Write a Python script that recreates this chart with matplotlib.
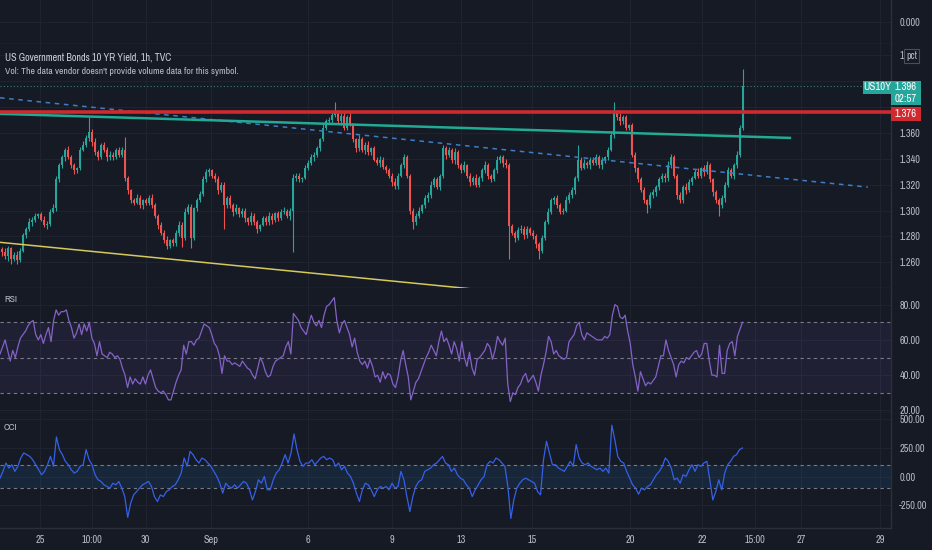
import numpy as np
import matplotlib
matplotlib.use('Agg')
import matplotlib.pyplot as plt
from matplotlib.patches import Rectangle
from matplotlib import font_manager as fm

# ---------------- data ----------------
closes = [
    1.268, 1.265, 1.271, 1.263, 1.266, 1.262, 1.269, 1.281, 1.286, 1.291,
    1.293, 1.296, 1.297, 1.293, 1.289, 1.290, 1.299, 1.302, 1.324, 1.335,
    1.341, 1.347, 1.341, 1.335, 1.331, 1.333, 1.347, 1.351, 1.356, 1.361,
    1.353, 1.345, 1.341, 1.351, 1.347, 1.341, 1.343, 1.341, 1.347, 1.343,
    1.347, 1.325, 1.316, 1.308, 1.306, 1.310, 1.304, 1.308, 1.306, 1.310,
    1.304, 1.296, 1.289, 1.283, 1.277, 1.273, 1.277, 1.275, 1.283, 1.289,
    1.279, 1.299, 1.303, 1.279, 1.302, 1.308, 1.313, 1.324, 1.330, 1.331,
    1.327, 1.324, 1.316, 1.320, 1.304, 1.310, 1.304, 1.299, 1.302, 1.297,
    1.300, 1.294, 1.291, 1.296, 1.291, 1.286, 1.289, 1.294, 1.291, 1.296,
    1.293, 1.298, 1.294, 1.299, 1.300, 1.296, 1.300, 1.325, 1.327, 1.324,
    1.325, 1.333, 1.337, 1.341, 1.343, 1.348, 1.355, 1.364, 1.369, 1.370,
    1.374, 1.376, 1.369, 1.373, 1.364, 1.372, 1.366, 1.355, 1.348, 1.355,
    1.347, 1.351, 1.345, 1.348, 1.339, 1.337, 1.339, 1.334, 1.331, 1.327,
    1.322, 1.319, 1.327, 1.335, 1.341, 1.327, 1.300, 1.291, 1.296, 1.300,
    1.304, 1.310, 1.312, 1.320, 1.324, 1.318, 1.327, 1.348, 1.343, 1.347,
    1.339, 1.345, 1.335, 1.331, 1.335, 1.327, 1.322, 1.325, 1.320, 1.325,
    1.331, 1.335, 1.327, 1.324, 1.331, 1.339, 1.341, 1.337, 1.335, 1.288,
    1.283, 1.279, 1.285, 1.286, 1.281, 1.286, 1.283, 1.280, 1.274, 1.269,
    1.279, 1.291, 1.299, 1.308, 1.310, 1.304, 1.299, 1.300, 1.308, 1.312,
    1.316, 1.325, 1.339, 1.333, 1.337, 1.335, 1.339, 1.337, 1.341, 1.335,
    1.339, 1.341, 1.347, 1.358, 1.376, 1.372, 1.369, 1.372, 1.364, 1.366,
    1.343, 1.333, 1.324, 1.316, 1.308, 1.304, 1.312, 1.314, 1.318, 1.324,
    1.327, 1.325, 1.335, 1.341, 1.327, 1.312, 1.308, 1.318, 1.316, 1.322,
    1.325, 1.330, 1.327, 1.333, 1.330, 1.335, 1.324, 1.314, 1.308, 1.304,
    1.310, 1.320, 1.331, 1.327, 1.335, 1.343, 1.364, 1.396,
]
first_open = 1.270
# wick extensions beyond the body, in thousandths
up_ext = [
    2, 3, 2, 1, 2, 3, 2, 2, 1, 3, 2, 2, 1, 2, 3, 2, 2, 3, 3, 2,
    2, 1, 3, 2, 2, 1, 2, 3, 2, 11, 2, 3, 2, 1, 2, 2, 3, 2, 1, 2,
    2, 10, 2, 1, 2, 3, 2, 1, 2, 2, 3, 2, 1, 2, 2, 3, 1, 2, 2, 3,
    2, 3, 2, 2, 1, 2, 2, 3, 2, 2, 1, 2, 3, 2, 2, 1, 2, 2, 3, 1,
    2, 2, 1, 3, 2, 2, 1, 2, 2, 3, 2, 1, 2, 2, 3, 1, 2, 3, 2, 2,
    1, 2, 2, 3, 2, 2, 1, 3, 2, 2, 3, 8, 2, 2, 3, 2, 4, 2, 1, 3,
    2, 2, 3, 1, 2, 2, 3, 2, 1, 2, 2, 3, 2, 2, 3, 2, 1, 2, 2, 3,
    1, 2, 2, 3, 2, 2, 1, 3, 2, 2, 1, 3, 2, 2, 3, 1, 2, 2, 3, 2,
    2, 3, 2, 1, 2, 3, 2, 2, 3, 2, 2, 1, 2, 3, 2, 2, 1, 2, 2, 2,
    2, 2, 3, 2, 1, 2, 2, 2, 3, 2, 2, 2, 12, 2, 3, 1, 2, 2, 3, 2,
    2, 1, 2, 2, 8, 2, 3, 2, 2, 1, 2, 2, 1, 2, 2, 1, 2, 3, 2, 2,
    2, 2, 3, 3, 2, 1, 2, 2, 3, 2, 2, 2, 3, 1, 2, 3, 2, 1, 2, 2,
    2, 2, 3, 2, 2, 3, 2, 13,
]
dn_ext = [
    3, 2, 4, 4, 2, 3, 2, 1, 2, 2, 3, 2, 2, 1, 2, 3, 2, 1, 2, 2,
    2, 3, 1, 2, 3, 2, 2, 1, 2, 2, 3, 2, 2, 1, 2, 3, 2, 2, 1, 2,
    2, 2, 3, 2, 2, 1, 2, 3, 2, 2, 2, 2, 3, 2, 2, 3, 2, 2, 2, 3,
    7, 2, 2, 8, 2, 2, 1, 2, 2, 3, 2, 2, 3, 2, 18, 2, 2, 3, 2, 2,
    2, 3, 2, 2, 2, 3, 2, 1, 2, 2, 3, 2, 2, 1, 2, 2, 3, 32, 2, 2,
    2, 1, 2, 2, 3, 2, 2, 1, 2, 2, 3, 2, 2, 3, 2, 2, 1, 2, 3, 2,
    2, 3, 2, 2, 1, 2, 3, 2, 2, 2, 3, 2, 2, 1, 2, 2, 3, 5, 2, 2,
    2, 2, 3, 2, 2, 1, 2, 2, 3, 2, 2, 3, 2, 2, 1, 2, 3, 2, 2, 2,
    2, 2, 3, 2, 1, 2, 2, 3, 2, 25, 2, 3, 2, 2, 3, 2, 2, 2, 3, 6,
    2, 2, 1, 2, 3, 2, 2, 2, 1, 2, 2, 3, 2, 2, 1, 2, 3, 2, 2, 2,
    3, 2, 2, 1, 2, 2, 3, 2, 2, 2, 2, 3, 2, 2, 2, 6, 2, 2, 3, 2,
    2, 3, 2, 2, 2, 3, 2, 2, 3, 2, 2, 1, 2, 2, 3, 2, 2, 3, 2, 8,
    2, 3, 2, 2, 3, 2, 2, 2,
]
rsi = [
    52, 56, 60, 54, 48, 54, 50, 56, 61, 63, 65, 68, 70, 71, 63, 60, 63, 58, 63, 67,
    59, 71, 77, 74, 76, 76, 77, 71, 67, 61, 64, 69, 63, 69, 65, 70, 61, 58, 51, 59,
    52, 51, 50, 53, 52, 50, 51, 49, 44, 40, 33, 39, 35, 38, 36, 35, 39, 35, 40, 43,
    38, 33, 31, 30, 31, 29, 26, 26, 31, 36, 40, 43, 57, 52, 59, 59, 57, 60, 61, 65,
    69, 68, 67, 63, 58, 56, 51, 41, 51, 48, 48, 46, 47, 46, 45, 48, 46, 44, 43, 40,
    38, 44, 50, 47, 42, 39, 40, 45, 48, 49, 50, 51, 56, 59, 52, 75, 73, 71, 67, 65,
    63, 69, 74, 70, 68, 71, 67, 74, 79, 80, 82, 84, 71, 64, 69, 71, 67, 63, 56, 61,
    53, 48, 46, 48, 44, 49, 45, 39, 40, 36, 42, 38, 41, 40, 35, 33, 39, 48, 54, 46,
    39, 26, 31, 36, 38, 42, 46, 50, 53, 57, 54, 51, 59, 65, 59, 61, 57, 52, 59, 55,
    48, 59, 50, 45, 53, 44, 40, 49, 50, 52, 54, 58, 56, 49, 54, 62, 59, 57, 61, 35,
    25, 30, 29, 33, 35, 39, 41, 36, 38, 40, 36, 31, 40, 46, 53, 62, 59, 52, 54, 51,
    50, 49, 50, 59, 61, 63, 68, 70, 63, 60, 64, 63, 62, 61, 60, 60, 60, 62, 61, 63,
    74, 80, 79, 73, 72, 74, 65, 58, 46, 39, 31, 42, 38, 34, 36, 35, 37, 39, 45, 51,
    51, 60, 54, 50, 46, 39, 46, 48, 47, 50, 49, 51, 53, 54, 50, 52, 58, 58, 48, 40,
    40, 39, 57, 41, 41, 54, 58, 59, 51, 62, 66, 70,
]
cci = [
    -12, 47, 120, 76, 105, 47, 91, 164, 208, 193,
    178, 149, 105, 61, 18, 47, 105, 178, 91, 348,
    237, 193, 135, 105, 61, 32, 47, 91, 105, 237,
    149, 105, 18, -26, -41, -70, -85, -99, -56, -70,
    -41, -99, -173, -354, -231, -158, -129, -99, -70, -56,
    -41, -85, -173, -216, -158, -173, -129, -114, -85, -70,
    -26, 32, 164, 91, 222, 193, 149, 120, 164, 149,
    120, 91, 47, 3, -56, -143, -56, -85, -99, -70,
    -99, -70, -41, -56, -114, -202, -129, -26, -56, 3,
    -114, -114, -26, 32, 61, 120, 193, 120, 208, 374,
    237, 135, 91, 120, 120, 149, 105, 135, 164, 178,
    149, 164, 149, 91, 120, 61, 91, 32, 3, -56,
    -143, -216, -114, -56, -70, -114, -173, -114, -85, -99,
    -85, -114, -56, -99, -85, 47, -26, -173, -304, -173,
    -85, -41, -26, 47, 61, 76, 105, 120, 149, 178,
    120, 105, 47, 76, 18, -12, -26, -70, -99, -173,
    -114, -70, -26, 3, 105, 135, 120, 164, 149, 120,
    91, -85, -363, -202, -99, -56, -26, -12, -26, -41,
    -56, -129, -158, 149, 310, 208, 105, 105, 76, 61,
    47, 91, 135, 91, 281, 164, 120, 105, 120, 91,
    76, 61, 76, 47, 76, 32, 450, 325, 178, 135,
    120, 47, -12, -70, -99, -152, -99, -114, -85, -70,
    -26, 18, 47, 91, 164, 135, 76, -26, -12, -56,
    18, 3, 61, 105, 47, 105, 91, 120, 135, -26,
    -202, -129, -26, -114, 32, 105, 135, 178, 193, 237,
    251,
]
time_ticks = [12.8, 30.2, 48.0, 69.8, 102.2, 130.2, 153.2, 176.8, 209.5, 233.5, 251.0, 266.5, 292.8]
time_labels = ['25', '10:00', '30', 'Sep', '6', '9', '13', '15', '20', '22', '15:00', '27', '29']
price_ticks = [1.26, 1.28, 1.30, 1.32, 1.34, 1.36, 1.38, 1.40, 1.42]
price_labels = ['1.260', '1.280', '1.300', '1.320', '1.340', '1.360', '', '', '1.']
rsi_ticks = [20, 40, 60, 80]
rsi_levels = [70, 50, 30]
cci_ticks = [-250, 0, 250, 500]
cci_levels = [100, -100]
resistance = 1.376
last_price = 1.396
teal_x, teal_y = [-0.5, 262.8], [1.3747, 1.3561]
blue_x, blue_y = [-0.5, 288.8], [1.3871, 1.3181]
yellow_x, yellow_y = [-0.5, 160.0], [1.2755, 1.2388]

# ---------------- style ----------------
BG = '#161a25'
GRID = '#1f2330'
SEP = '#2b2f3a'
TXT = '#b8bbc4'
UP = '#26a69a'
DN = '#ef5350'
RED = '#cf2a2f'
TEAL = '#22ab94'

# prefer a narrow sans (TradingView's UI font is narrow)
narrow = None
for f in fm.fontManager.ttflist:
    nm = f.name.lower()
    if ('narrow' in nm or 'condensed' in nm) and 'bold' not in f.fname.lower():
        narrow = f.name
        break
if narrow is None:
    for f in fm.fontManager.ttflist:
        if f.stretch in ('condensed', 'semi-condensed') and f.weight in ('normal', 400, 'regular'):
            narrow = f.name
            plt.rcParams['font.stretch'] = f.stretch
            break
if narrow:
    plt.rcParams['font.family'] = [narrow, 'Liberation Sans', 'DejaVu Sans']
    FS = 1.0
else:
    plt.rcParams['font.family'] = ['Liberation Sans', 'DejaVu Sans']
    FS = 0.88

W, H = 932, 550
fig = plt.figure(figsize=(W / 100, H / 100), dpi=100, facecolor=BG)
AXR = 891


def rect(top, bottom):
    return [0, 1 - bottom / H, AXR / W, (bottom - top) / H]


ax_vol = fig.add_axes(rect(0, 43.5))
ax = fig.add_axes(rect(43.5, 287.5))
ax_rsi = fig.add_axes(rect(287.5, 412.5))
ax_cci = fig.add_axes(rect(412.5, 528))

XL = (-0.5, 296.5)
for a in (ax_vol, ax, ax_rsi, ax_cci):
    a.set_facecolor(BG)
    a.set_xlim(*XL)
    for s in ('left', 'top'):
        a.spines[s].set_visible(False)
    a.spines['right'].set_color(SEP)
    a.spines['bottom'].set_color(SEP)
    a.spines['right'].set_linewidth(1)
    a.spines['bottom'].set_linewidth(1)
    a.yaxis.tick_right()
    a.tick_params(axis='y', length=0, pad=6, labelsize=7.4 * FS, labelcolor=TXT)
    a.tick_params(axis='x', length=0, labelsize=7.4 * FS, labelcolor=TXT)
    a.set_xticks(time_ticks)
    a.grid(True, color=GRID, lw=0.8)
    a.set_axisbelow(True)
    if a is not ax_cci:
        a.set_xticklabels([])

# volume pane (empty)
ax_vol.set_ylim(-1, 1)
ax_vol.set_yticks([0])
ax_vol.set_yticklabels(['0.000'])

# ---------------- price pane ----------------
n = len(closes)
idx = np.arange(n)
c = np.array(closes)
o = np.array([first_open] + closes[:-1])
hi = np.maximum(o, c) + np.array(up_ext) / 1000
lo = np.minimum(o, c) - np.array(dn_ext) / 1000
cols = np.where(c >= o, UP, DN)
ax.vlines(idx, lo, hi, colors=cols, lw=0.8, zorder=2)
body_h = np.maximum(np.abs(c - o), 0.0005)
ax.bar(idx, body_h, bottom=np.minimum(o, c), width=0.62, color=cols, linewidth=0, zorder=3)

ax.plot(yellow_x, yellow_y, color='#d6c85a', lw=1.1, zorder=4)
ax.plot(blue_x, blue_y, color='#3a7fc8', lw=1.1, dashes=(3, 3), zorder=4)
ax.plot(teal_x, teal_y, color=TEAL, lw=1.8, zorder=4)
ax.axhline(resistance, color=RED, lw=2.6, zorder=4)
ax.axhline(last_price, color='#3c7f76', lw=0.8, ls=(0, (1, 2)), zorder=4)

ax.set_ylim(1.24062, 1.42899)
ax.set_yticks(price_ticks)
ax.set_yticklabels(price_labels)

# ---------------- RSI pane ----------------
ax_rsi.axhspan(30, 70, color='#7e57c2', alpha=0.1, lw=0)
for lv in rsi_levels:
    ax_rsi.axhline(lv, color='#787b86', lw=0.8, dashes=(3, 3))
ax_rsi.plot(np.linspace(-0.5, 247, len(rsi)), rsi, color='#8462c8', lw=0.9)
ax_rsi.set_ylim(18.86, 89.7)
ax_rsi.set_yticks(rsi_ticks)
ax_rsi.set_yticklabels([f'{v:.2f}' for v in rsi_ticks])

# ---------------- CCI pane ----------------
ax_cci.axhspan(-100, 100, color='#2196f3', alpha=0.1, lw=0)
for lv in cci_levels:
    ax_cci.axhline(lv, color='#787b86', lw=0.8, dashes=(3, 3))
ax_cci.plot(np.linspace(-0.5, 247, len(cci)), cci, color='#3560e8', lw=0.9)
ax_cci.set_ylim(-447, 561)
ax_cci.set_yticks(cci_ticks)
ax_cci.set_yticklabels([f'{v:.2f}' for v in cci_ticks])
ax_cci.set_xticklabels(time_labels)
ax_cci.tick_params(axis='x', pad=5)


# ---------------- overlays (figure pixel coords) ----------------
def fx(x):
    return x / W


def fy(y):
    return 1 - y / H


def box(x0, y0, x1, y1, fc, ec='none'):
    fig.add_artist(Rectangle((fx(x0), fy(y1)), (x1 - x0) / W, (y1 - y0) / H,
                             transform=fig.transFigure, facecolor=fc, edgecolor=ec,
                             lw=0.8, zorder=5))


def txt(x, y, s, size=7.0, **kw):
    base = dict(color=TXT, fontsize=size * FS, va='center', ha='left', zorder=6)
    base.update(kw)
    fig.text(fx(x), fy(y), s, **base)


txt(5, 58, 'US Government Bonds 10 YR Yield, 1h, TVC', size=7.3, color='#cfd1d8')
txt(5, 72, "Vol: The data vendor doesn't provide volume data for this symbol.", size=7.0)
txt(4, 300, 'RSI', size=7)
txt(4, 428, 'CCI', size=7)

# pct toggle next to the truncated 1.420 label
box(904, 49, 919, 63, BG, '#4a4e59')
txt(911.5, 56, 'pct', size=7.2, ha='center')

# last-price labels
box(863, 81, 891, 94, UP)
txt(877, 87.5, 'US10Y', size=7.8, color='white', ha='center')
box(891, 81, 921, 105, UP)
txt(906, 87.5, f'{last_price:.3f}', size=7.8, color='white', ha='center')
txt(906, 99.5, '02:57', size=7.8, color='white', ha='center')
box(891, 107, 921, 121, RED)
txt(906, 114, f'{resistance:.3f}', size=7.8, color='white', ha='center')

fig.savefig('out.png', dpi=100, facecolor=BG)
